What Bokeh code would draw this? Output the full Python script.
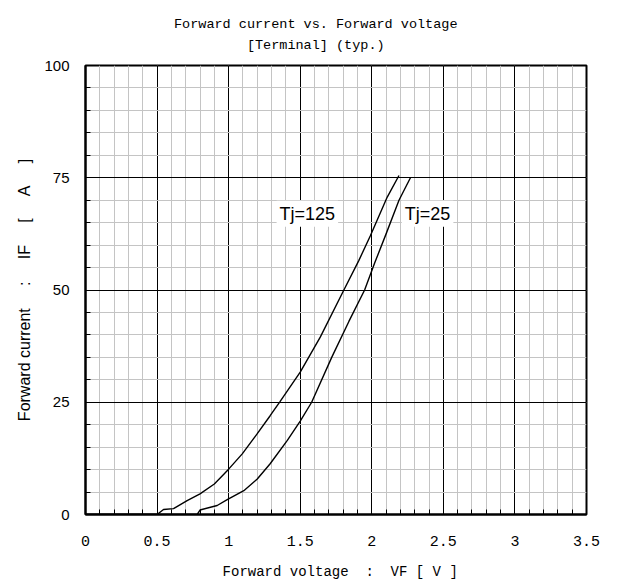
from bokeh.plotting import figure
from bokeh.models import FixedTicker, Label, Range1d, NumeralTickFormatter, Title
from bokeh.embed import file_html
from bokeh.resources import INLINE

# ---- data ----
vf_tj125 = [0.0, 0.50, 0.545, 0.615, 0.71, 0.80, 0.90, 1.00, 1.095, 1.20, 1.29, 1.36,
            1.50, 1.64, 1.805, 1.91, 1.99, 2.108, 2.19]
if_tj125 = [0.0, 0.0, 1.1, 1.3, 3.1, 4.6, 6.8, 10.1, 13.5, 18.0, 22.0, 25.2,
            31.7, 39.5, 50.0, 56.6, 62.1, 70.7, 75.5]

vf_tj25 = [0.0, 0.78, 0.80, 0.92, 0.99, 1.106, 1.20, 1.29, 1.41, 1.50, 1.58, 1.72,
           1.84, 1.95, 2.02, 2.10, 2.19, 2.27]
if_tj25 = [0.0, 0.0, 1.0, 2.0, 3.3, 5.3, 7.9, 11.3, 16.5, 20.8, 25.0, 35.0,
           43.0, 50.0, 56.0, 62.5, 70.0, 75.0]

x_major = [0, 0.5, 1, 1.5, 2, 2.5, 3, 3.5]
y_major = [0, 25, 50, 75, 100]
x_minor = [round(0.1 * i, 1) for i in range(36)]
y_minor = list(range(0, 101, 5))

series_names = ["Tj=125", "Tj=25"]
label_pos = [(1.335, 67.0), (2.21, 67.0)]

NB = "\u00a0"
title_line1 = "Forward current vs. Forward voltage"
title_line2 = "[Terminal] (typ.)"
pad = (len(title_line1) - len(title_line2)) // 2
title_text = (title_line1 + NB * 5 + "\n"
              + NB * pad + title_line2 + NB * (len(title_line1) - len(title_line2) - pad + 5))
x_title = NB + "Forward voltage" + NB * 2 + ":" + NB * 2 + "VF" + NB + "[" + NB + "V" + NB + "]"
sp = NB * 5
y_title = "Forward current" + sp + ":" + sp + "IF" + sp + "[" + sp + "A" + sp + "]"

MONO = "Liberation Mono"
SANS = "Liberation Sans"

p = figure(frame_width=501, frame_height=449,
           x_range=Range1d(0, 3.5), y_range=Range1d(0, 100),
           output_backend="svg", toolbar_location=None,
           min_border_left=85, min_border_right=32,
           min_border_top=65, min_border_bottom=69,
           title=title_text)

p.title.align = "center"
p.title.vertical_align = "top"
p.title.text_font = MONO
p.title.text_font_size = "13.5px"
p.title.text_font_style = "normal"
p.title.text_color = "black"
p.title.text_line_height = 1.42
p.title.standoff = 22

xt = FixedTicker(ticks=x_major, minor_ticks=x_minor)
yt = FixedTicker(ticks=y_major, minor_ticks=y_minor)
p.xaxis.ticker = xt
p.yaxis.ticker = yt
p.xgrid.ticker = xt
p.ygrid.ticker = yt
p.xaxis.formatter = NumeralTickFormatter(format="0.[0]")

for g in (p.xgrid, p.ygrid):
    g.grid_line_color = "black"
    g.grid_line_width = 1
    g.grid_line_alpha = 1
    g.minor_grid_line_color = "#c4c4c4"
    g.minor_grid_line_width = 1

for ax in (p.xaxis, p.yaxis):
    ax.axis_line_color = "black"
    ax.axis_line_width = 2
    ax.major_tick_in = 5
    ax.major_tick_out = 0
    ax.minor_tick_in = 5
    ax.minor_tick_out = 0
    ax.major_tick_line_color = "black"
    ax.minor_tick_line_color = "black"
    ax.major_label_text_color = "black"
    ax.major_label_text_font_size = "15px"
    ax.axis_label_text_font_style = "normal"
    ax.axis_label_text_color = "black"

p.xaxis.major_label_text_font = MONO
p.xaxis.major_label_standoff = 21
p.xaxis.axis_label = x_title
p.xaxis.axis_label_text_font = MONO
p.xaxis.axis_label_text_font_size = "14px"
p.xaxis.axis_label_standoff = 15

p.yaxis.major_label_text_font = SANS
p.yaxis.major_label_standoff = 16
p.yaxis.axis_label = y_title
p.yaxis.axis_label_text_font = SANS
p.yaxis.axis_label_text_font_size = "16px"
p.yaxis.axis_label_standoff = 8

p.outline_line_color = "black"
p.outline_line_width = 2
p.outline_line_alpha = 1

p.line(vf_tj125, if_tj125, line_color="black", line_width=1.4)
p.line(vf_tj25, if_tj25, line_color="black", line_width=1.4)

for name, (lx, ly) in zip(series_names, label_pos):
    p.add_layout(Label(x=lx, y=ly, text=name, text_font=SANS, text_font_size="18px",
                       text_color="black", text_baseline="alphabetic",
                       background_fill_color="white", background_fill_alpha=1,
                       padding=3))

open("out.html", "w").write(file_html(p, INLINE))
